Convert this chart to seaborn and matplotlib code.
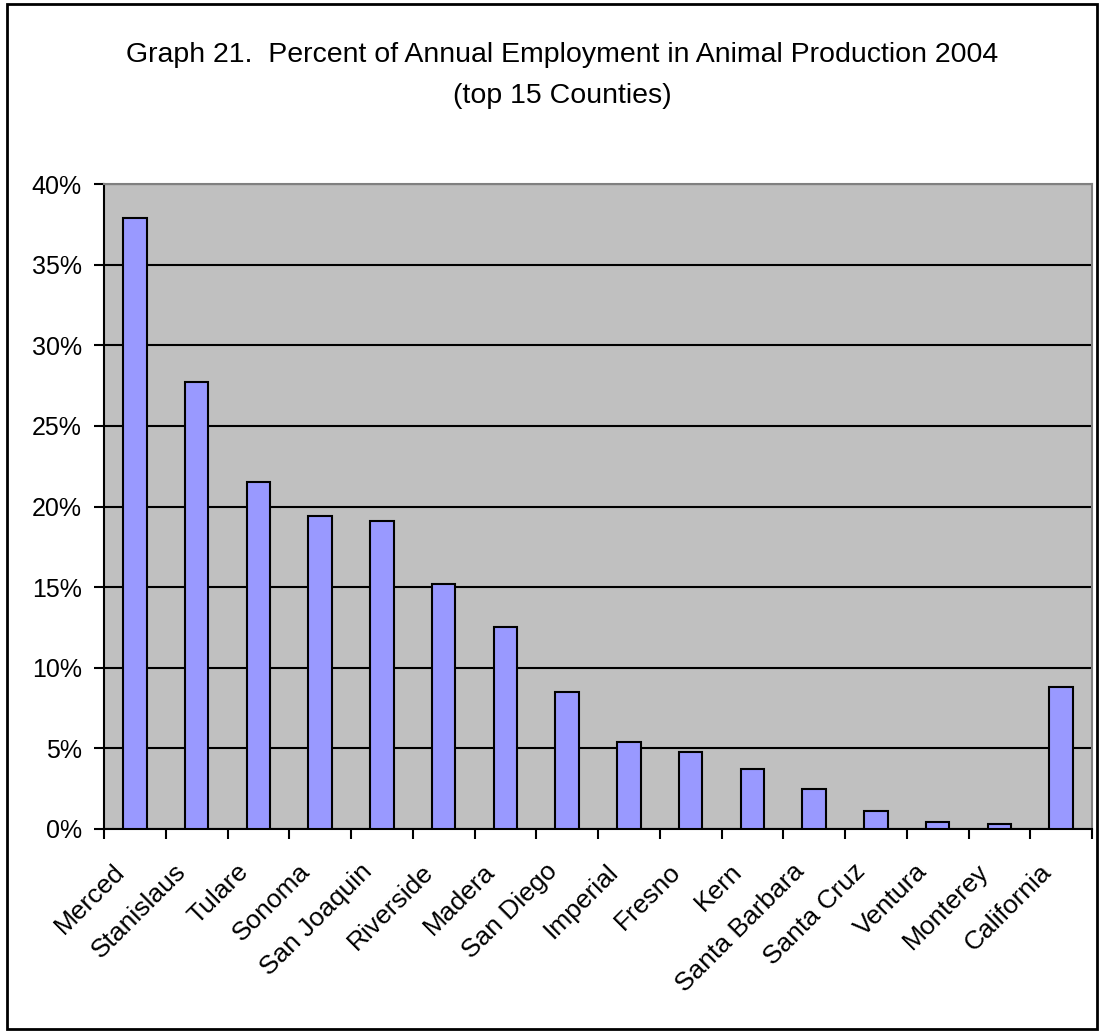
import matplotlib
matplotlib.use("Agg")
import matplotlib.pyplot as plt
import matplotlib.transforms as mtransforms
import seaborn as sns
import pandas as pd
import numpy as np
from matplotlib.patches import Rectangle
from matplotlib.ticker import FixedLocator, PercentFormatter

counties = ["Merced", "Stanislaus", "Tulare", "Sonoma", "San Joaquin", "Riverside",
            "Madera", "San Diego", "Imperial", "Fresno", "Kern", "Santa Barbara",
            "Santa Cruz", "Ventura", "Monterey", "California"]
pct_animal = [37.9, 27.7, 21.5, 19.4, 19.1, 15.2, 12.5, 8.5, 5.4, 4.8, 3.7, 2.5,
              1.1, 0.45, 0.3, 8.8]

df = pd.DataFrame({"county": counties, "pct": pct_animal})

sns.set_theme(style="white")
plt.rcParams["font.family"] = ["Liberation Sans", "DejaVu Sans"]
plt.rcParams["text.color"] = "black"
plt.rcParams["xtick.color"] = "black"
plt.rcParams["ytick.color"] = "black"

W, H = 1100, 1032
fig = plt.figure(figsize=(W / 100, H / 100), dpi=100)
ax = fig.add_axes([104 / W, 1 - 829 / H, (1092 - 104) / W, (829 - 184) / H])
ax.set_facecolor("#C0C0C0")

sns.barplot(data=df, x="county", y="pct", color="#9999FF", saturation=1,
            edgecolor="black", linewidth=1.5, width=0.38, ax=ax, zorder=3)

ax.set_ylim(0, 40)
ax.set_xlim(-0.5, len(counties) - 0.5)
ax.yaxis.set_major_locator(FixedLocator(np.arange(0, 41, 5)))
ax.yaxis.set_major_formatter(PercentFormatter(decimals=0))
ax.yaxis.grid(True, color="black", linewidth=1.5, zorder=1)
ax.set_axisbelow(True)

ax.set_xlabel("")
ax.set_ylabel("")

# x ticks sit on category boundaries, labels on centers
ax.set_xticks(np.arange(len(counties)))
ax.set_xticklabels(counties, rotation=45, ha="right", va="center",
                   rotation_mode="anchor", fontsize=19)
ax.tick_params(axis="x", which="major", length=0, pad=28)
shift = mtransforms.ScaledTranslation(-14 / 100, 0, fig.dpi_scale_trans)
for lab in ax.get_xticklabels():
    lab.set_transform(lab.get_transform() + shift)
ax.set_xticks(np.arange(-0.5, len(counties)), minor=True)
ax.tick_params(axis="x", which="minor", length=7, width=1.5, color="black",
               direction="out", bottom=True)
ax.tick_params(axis="y", length=7, width=1.5, color="black", direction="out",
               left=True, labelsize=18, pad=9)

for side in ["left", "bottom"]:
    ax.spines[side].set_color("black")
    ax.spines[side].set_linewidth(1.5)
for side in ["top", "right"]:
    ax.spines[side].set_color("#808080")
    ax.spines[side].set_linewidth(1.5)

fig.text(562 / W, 1 - 55 / H, "Graph 21.  Percent of Annual Employment in Animal Production 2004",
         ha="center", va="center", fontsize=20.5)
fig.text(562 / W, 1 - 96 / H, "(top 15 Counties)", ha="center", va="center",
         fontsize=20.5)

# outer chart border
fig.patches.append(Rectangle((7 / W, 3 / H), (1097 - 7) / W, (1028 - 3) / H,
                             transform=fig.transFigure, fill=False,
                             edgecolor="black", linewidth=2))

fig.savefig("out.png", dpi=100)
